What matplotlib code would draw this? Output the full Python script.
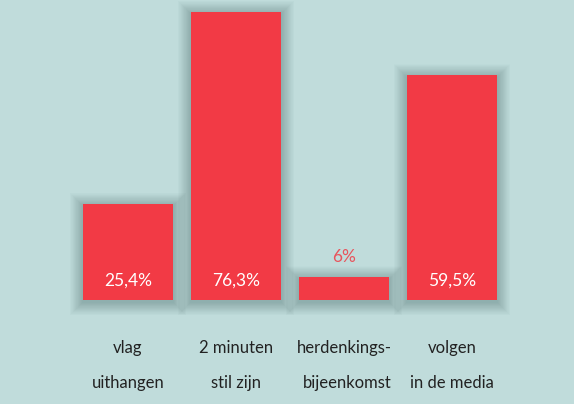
import matplotlib.pyplot as plt

categories = ["vlag\nuithangen", "2 minuten\nstil zijn", "herdenkings-\nbijeenkomst", "volgen\nin de media"]
values = [25.4, 76.3, 6.0, 59.5]
value_labels = ["25,4%", "76,3%", "6%", "59,5%"]

bg = "#c0dcdb"
red = "#f23a45"

fig = plt.figure(figsize=(5.74, 4.04), dpi=100)
fig.patch.set_facecolor(bg)
ax = fig.add_axes([0, 0, 1, 1])
ax.set_facecolor(bg)

# pixel mapping: bar centres 128px apart 108px, width 90px, baseline at 300px
px_x = 108.0
px_y = 3.775
ax.set_xlim(-128 / px_x, (574 - 128) / px_x)
ax.set_ylim(-104 / px_y, 300 / px_y)

x = list(range(len(values)))
w = 90 / px_x

# soft shadow
for k in range(1, 25):
    d = k * 0.55
    ax.bar(x, [v + 2 * d / px_y for v in values], width=w + 2 * d / px_x,
           bottom=-d / px_y - 2 / px_y, color="#58807e", alpha=0.018, linewidth=0, zorder=1)

ax.bar(x, values, width=w, color=red, linewidth=0, zorder=3)

font = dict(family="Lato", fontstyle="normal", fontweight="normal")
for i, (v, lab) in enumerate(zip(values, value_labels)):
    if v > 10:
        ax.text(i, 19 / px_y, lab, ha="center", va="center", color="white",
                fontsize=12.5, zorder=4, **font)
    else:
        ax.text(i, v + 20 / px_y, lab, ha="center", va="center", color="#e8545c",
                fontsize=12.5, zorder=4, **font)

for i, cat in enumerate(categories):
    l1, l2 = cat.split("\n")
    ax.text(i, -48 / px_y, l1, ha="center", va="center", color="#222222",
            fontsize=12, **font)
    ax.text(i + (0.03 if i == 2 else 0), -83 / px_y, l2, ha="center", va="center",
            color="#222222", fontsize=12, **font)

ax.axis("off")
fig.savefig("out.png", dpi=100, facecolor=bg)
